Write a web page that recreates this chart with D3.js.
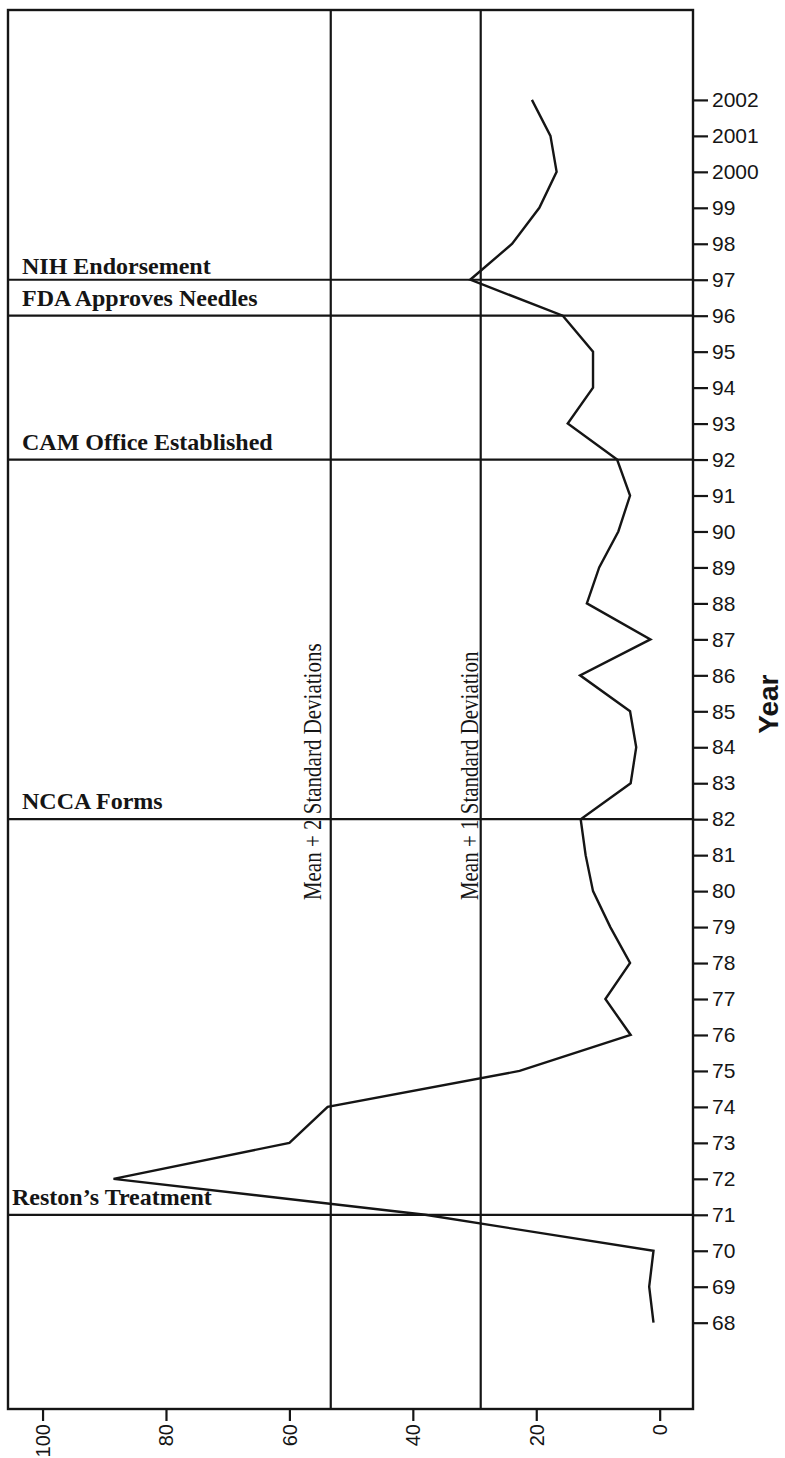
<!DOCTYPE html>
<html>
<head>
<meta charset="utf-8">
<script src="https://cdn.jsdelivr.net/npm/d3@7"></script>
<style>
  html, body { margin: 0; padding: 0; background: #fff; }
  svg { display: block; }
</style>
</head>
<body>
<svg id="chart" width="785" height="1458"></svg>
<script>
// ---- data ----
const years = [1968,1969,1970,1971,1972,1973,1974,1975,1976,1977,1978,1979,1980,1981,1982,1983,1984,1985,
               1986,1987,1988,1989,1990,1991,1992,1993,1994,1995,1996,1997,1998,1999,2000,2001,2002];
const values = [1.0,1.7,1.0,38.0,88.5,60.0,53.8,22.7,4.7,8.8,4.8,8.0,10.8,12.0,12.8,4.7,3.8,4.8,
                12.9,1.5,11.8,9.8,6.7,4.8,6.9,14.9,10.8,10.8,15.7,30.7,23.9,19.5,16.7,17.7,20.7];
const eventYears = [1971, 1982, 1992, 1996, 1997];
const eventLabels = ["Reston\u2019s Treatment", "NCCA Forms", "CAM Office Established", "FDA Approves Needles", "NIH Endorsement"];
const thresholdValues = [53.3, 29.0];
const thresholdLabels = ["Mean + 2 Standard Deviations", "Mean + 1 Standard Deviation"];
const xTickValues = [0, 20, 40, 60, 80, 100];
const yTickValues = years;
const yAxisTitle = "Year";

(function () {
// ---- layout ----
const svg = d3.select("#chart");
const pL = 8, pR = 693, pT = 10, pB = 1409;
const ink = "#151515";

const x = d3.scaleLinear().domain([105.6, -5.4]).range([pL, pR]);
const y = d3.scaleLinear().domain([1965.6, 2004.5]).range([pB, pT]);

// frame
svg.append("rect")
  .attr("x", pL).attr("y", pT)
  .attr("width", pR - pL).attr("height", pB - pT)
  .attr("fill", "none").attr("stroke", ink).attr("stroke-width", 2.4);

// threshold vertical lines
svg.selectAll(".thr").data(thresholdValues).join("line")
  .attr("class", "thr")
  .attr("x1", d => x(d)).attr("x2", d => x(d))
  .attr("y1", pT).attr("y2", pB)
  .attr("stroke", ink).attr("stroke-width", 2.2);

// threshold labels (rotated)
const thrOffsets = [10, 3];
svg.selectAll(".thrLabel").data(thresholdValues).join("text")
  .attr("class", "thrLabel")
  .attr("transform", (d, i) => `translate(${x(d) - thrOffsets[i]},${y(1979.75)}) rotate(-90) scale(1,1.2)`)
  .attr("text-anchor", "start")
  .attr("font-family", "'Liberation Serif', 'Times New Roman', serif")
  .attr("font-size", 21)
  .attr("fill", ink)
  .text((d, i) => thresholdLabels[i]);

// event horizontal lines
svg.selectAll(".evt").data(eventYears).join("line")
  .attr("class", "evt")
  .attr("x1", pL).attr("x2", pR)
  .attr("y1", d => y(d)).attr("y2", d => y(d))
  .attr("stroke", ink).attr("stroke-width", 2.2);

// event labels
svg.selectAll(".evtLabel").data(eventYears).join("text")
  .attr("class", "evtLabel")
  .attr("x", (d, i) => i === 0 ? 12 : 22)
  .attr("y", (d, i) => y(d) - (i === 4 ? 6 : 10))
  .attr("font-family", "'Liberation Serif', 'Times New Roman', serif")
  .attr("font-weight", "bold")
  .attr("font-size", 24)
  .attr("fill", ink)
  .text((d, i) => eventLabels[i]);

// data line
const line = d3.line()
  .x((d, i) => x(values[i]))
  .y(d => y(d));
svg.append("path")
  .datum(years)
  .attr("d", line)
  .attr("fill", "none")
  .attr("stroke", ink)
  .attr("stroke-width", 2.4);

// y axis (right)
const fmtYear = d => d < 2000 ? String(d % 100).padStart(2, "0") : String(d);
const yAxis = svg.append("g")
  .attr("transform", `translate(${pR},0)`)
  .call(d3.axisRight(y).tickValues(yTickValues).tickFormat(fmtYear).tickSize(15).tickPadding(4));
yAxis.select(".domain").remove();
yAxis.selectAll("line").attr("stroke", ink).attr("stroke-width", 2.2);
yAxis.selectAll("text")
  .attr("font-family", "'Liberation Sans', Arial, sans-serif")
  .attr("font-size", 21)
  .attr("fill", ink);

// x axis (bottom)
const xAxis = svg.append("g")
  .attr("transform", `translate(0,${pB})`)
  .call(d3.axisBottom(x).tickValues(xTickValues).tickSize(12).tickPadding(4));
xAxis.select(".domain").remove();
xAxis.selectAll("line").attr("stroke", ink).attr("stroke-width", 2.2);
xAxis.selectAll("text")
  .attr("y", 0).attr("x", -15).attr("dy", "0.35em")
  .attr("transform", "rotate(-90)")
  .attr("text-anchor", "end")
  .attr("font-family", "'Liberation Sans', Arial, sans-serif")
  .attr("font-size", 20)
  .attr("fill", ink);

// y axis title
svg.append("text")
  .attr("transform", `translate(778,${y(1985.2)}) rotate(-90)`)
  .attr("text-anchor", "middle")
  .attr("font-family", "'Liberation Sans', Arial, sans-serif")
  .attr("font-weight", "bold")
  .attr("font-size", 28)
  .attr("fill", ink)
  .text(yAxisTitle);
})();
</script>
</body>
</html>
